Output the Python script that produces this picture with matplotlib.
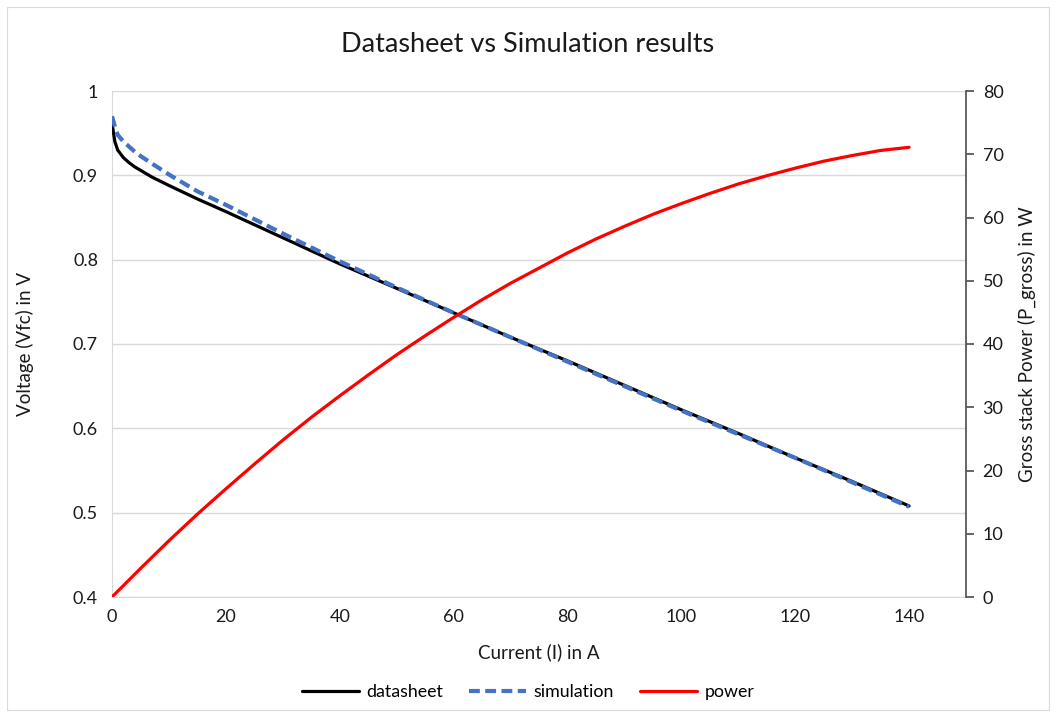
import matplotlib
matplotlib.use("Agg")
import matplotlib.pyplot as plt
from matplotlib.patches import Rectangle

plt.rcParams['font.family'] = ['Lato', 'DejaVu Sans']

# Stack current in A
current = [0, 0.5, 1, 2, 3, 4, 5, 7, 10, 15, 20, 25, 30, 35, 40, 45, 50, 55,
           60, 70, 80, 90, 100, 110, 120, 130, 140]
# Cell voltage from the datasheet, V
v_datasheet = [0.962, 0.940, 0.930, 0.921, 0.915, 0.910, 0.906, 0.898, 0.888,
               0.872, 0.857, 0.8415, 0.826, 0.8105, 0.795, 0.7805, 0.766,
               0.7515, 0.737, 0.708, 0.680, 0.651, 0.622, 0.594, 0.565, 0.537,
               0.508]
# Cell voltage from the simulation model, V
v_simulation = [0.970, 0.958, 0.948, 0.940, 0.934, 0.928, 0.923, 0.914, 0.901,
                0.881, 0.865, 0.848, 0.831, 0.8145, 0.798, 0.7825, 0.767,
                0.752, 0.737, 0.708, 0.679, 0.650, 0.621, 0.593, 0.565, 0.536,
                0.507]
# Gross stack power, W
power_current = [0, 5, 10, 15, 20, 25, 30, 35, 40, 45, 50, 55, 60, 65, 70, 75,
                 80, 85, 90, 95, 100, 105, 110, 115, 120, 125, 130, 135, 140]
power = [0, 4.5, 8.9, 13.1, 17.1, 21.0, 24.8, 28.4, 31.8, 35.1, 38.3, 41.3,
         44.2, 47.0, 49.6, 52.0, 54.4, 56.6, 58.6, 60.5, 62.2, 63.8, 65.3,
         66.6, 67.8, 68.9, 69.8, 70.6, 71.1]

x_ticks = [0, 20, 40, 60, 80, 100, 120, 140]
v_ticks = [0.4, 0.5, 0.6, 0.7, 0.8, 0.9, 1.0]
v_tick_labels = ['0.4', '0.5', '0.6', '0.7', '0.8', '0.9', '1']
p_ticks = [0, 10, 20, 30, 40, 50, 60, 70, 80]

W, H = 1056, 717
fig = plt.figure(figsize=(W / 100, H / 100), dpi=100)
fig.patches.append(Rectangle((7 / W, 7 / H), 1 - 14 / W, 1 - 14 / H,
                             transform=fig.transFigure, fill=False,
                             edgecolor='#d9d9d9', linewidth=0.8))

ax = fig.add_axes([112 / W, 1 - 597 / H, (966 - 112) / W, (597 - 91) / H])
ax2 = ax.twinx()

text_col = '#1a1a1a'
grid_col = '#d9d9d9'

l1, = ax.plot(current, v_datasheet, color='black', lw=2.3,
              solid_capstyle='round', solid_joinstyle='round',
              label='datasheet', zorder=3)
l2, = ax.plot(current, v_simulation, color='#4472C4', lw=3.0,
              linestyle=(0, (2.6, 1.3)), label='simulation', zorder=4)
l3, = ax2.plot(power_current, power, color='#ff0000', lw=2.3,
               solid_capstyle='round', solid_joinstyle='round', label='power')

ax.set_xlim(0, 150)
ax.set_ylim(0.4, 1.0)
ax2.set_ylim(0, 80)
ax.set_xticks(x_ticks)
ax.set_yticks(v_ticks)
ax.set_yticklabels(v_tick_labels)
ax2.set_yticks(p_ticks)

ax.grid(axis='y', color=grid_col, lw=1.0)
ax.set_axisbelow(True)

ax.spines['top'].set_visible(False)
ax2.spines['top'].set_visible(False)
ax.spines['right'].set_visible(False)
ax.spines['left'].set_color(grid_col)
ax.spines['bottom'].set_color(grid_col)
ax2.spines['left'].set_visible(False)
ax2.spines['bottom'].set_visible(False)
ax2.spines['right'].set_color('#595959')
ax2.spines['right'].set_linewidth(1.3)

ax.tick_params(axis='both', length=0, labelsize=13, labelcolor=text_col, pad=9)
ax.tick_params(axis='y', pad=10)
ax2.tick_params(axis='y', length=6, width=1.3, color='#595959', labelsize=13,
                labelcolor=text_col, pad=6)

ax.set_xlabel('Current (I) in A', fontsize=13.5, color=text_col, labelpad=13)
ax.set_ylabel('Voltage (Vfc) in V', fontsize=13.5, color=text_col, labelpad=28)
ax2.set_ylabel('Gross stack Power (P_gross) in W', fontsize=13.5,
               color=text_col, labelpad=10)

fig.text(0.5, 1 - 45 / H, 'Datasheet vs Simulation results', ha='center',
         va='center', fontsize=19.5, color=text_col)

fig.legend(handles=[l1, l2, l3], loc='center', ncol=3,
           bbox_to_anchor=(0.5, 1 - 692 / H), frameon=False, fontsize=12.8,
           handlelength=3.2, columnspacing=1.5, handletextpad=0.4)

fig.savefig('out.png', dpi=100, facecolor='white')
